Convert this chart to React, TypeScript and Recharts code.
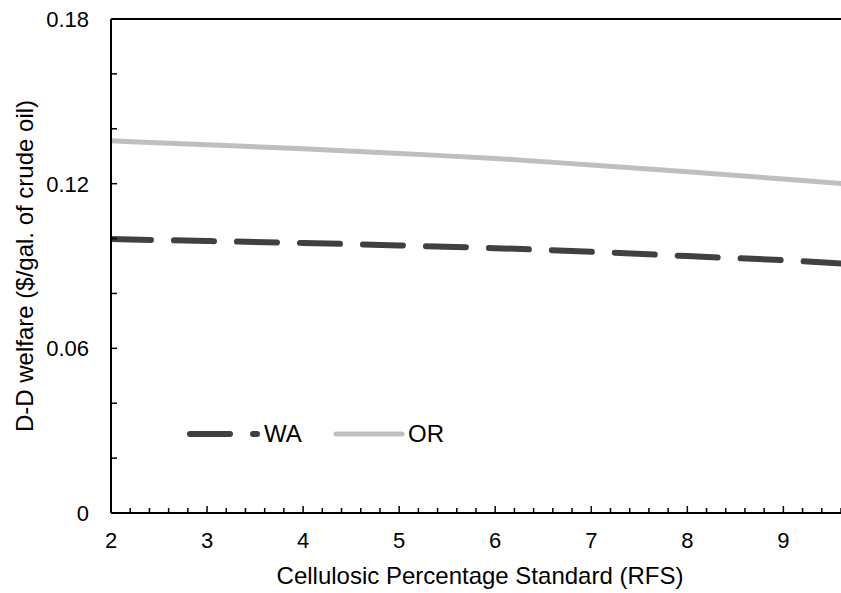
import { LineChart, Line, XAxis, YAxis, ReferenceLine, Customized } from "recharts";

const rfsLevels = [2, 3, 4, 5, 6, 7, 8, 9, 10];
const waWelfare = [0.0998, 0.0991, 0.0984, 0.0975, 0.0965, 0.0952, 0.0936, 0.0921, 0.09];
const orWelfare = [0.1356, 0.1342, 0.1327, 0.131, 0.1292, 0.1268, 0.1243, 0.1217, 0.119];

const yTicks = [0, 0.02, 0.04, 0.06, 0.08, 0.1, 0.12, 0.14, 0.16, 0.18];
const yLabelled = [0, 0.06, 0.12, 0.18];
const xMajor = [2, 3, 4, 5, 6, 7, 8, 9];
// minor ticks every 0.2 along the x axis
const xTicks = Array.from({ length: 39 }, (_, i) => Math.round((2 + i * 0.2) * 10) / 10);

const data = rfsLevels.map((rfs, i) => ({ rfs, WA: waWelfare[i], OR: orWelfare[i] }));

const FONT = "'Liberation Sans', Arial, sans-serif";
const WA_COLOR = "#404040";
const OR_COLOR = "#bfbfbf";

function YTick(props: any) {
  const { x, y, payload } = props;
  const v = payload.value;
  const labelled = yLabelled.some((t) => Math.abs(t - v) < 1e-6);
  return (
    <g>
      <line x1={x} y1={y} x2={x + 6} y2={y} stroke="#000" strokeWidth={1.5} />
      {labelled && (
        <text x={x - 22} y={y + 8} textAnchor="end" fontSize={22} fontFamily={FONT} fill="#000">
          {v === 0 ? "0" : v.toFixed(2)}
        </text>
      )}
    </g>
  );
}

function XTick(props: any) {
  const { x, y, payload } = props;
  const v = payload.value;
  const major = xMajor.includes(v);
  return (
    <g>
      <line x1={x} y1={y} x2={x} y2={y - (major ? 7 : 5)} stroke="#000" strokeWidth={1.5} />
      {major && (
        <text x={x} y={y + 35} textAnchor="middle" fontSize={22} fontFamily={FONT} fill="#000">
          {v}
        </text>
      )}
    </g>
  );
}

function XTitle(props: any) {
  const { viewBox } = props;
  return (
    <text x={viewBox.x + viewBox.width / 2 + 4} y={viewBox.y + 71} textAnchor="middle" fontSize={24} fontFamily={FONT} fill="#000">
      Cellulosic Percentage Standard (RFS)
    </text>
  );
}

function YTitle(props: any) {
  const { viewBox } = props;
  const cx = 33;
  const cy = viewBox.y + viewBox.height / 2;
  return (
    <text x={cx} y={cy} transform={`rotate(-90, ${cx}, ${cy})`} textAnchor="middle" fontSize={24} fontFamily={FONT} fill="#000">
      D-D welfare ($/gal. of crude oil)
    </text>
  );
}

function ChartLegend() {
  return (
    <g fontFamily={FONT} fontSize={24}>
      <line x1={190} y1={434} x2={257} y2={434} stroke={WA_COLOR} strokeWidth={6} strokeDasharray="40 23" strokeLinecap="round" />
      <text x={264} y={442} fill="#000">WA</text>
      <line x1={336} y1={434} x2={402} y2={434} stroke={OR_COLOR} strokeWidth={5} strokeLinecap="round" />
      <text x={408} y={442} fill="#000">OR</text>
    </g>
  );
}

export default function App() {
  return (
    <div style={{ position: "absolute", left: 0, top: 0, background: "#fff" }}>
      <LineChart width={841} height={593} data={data} margin={{ top: 19, right: 0, bottom: 0, left: 0 }}>
        <XAxis
          dataKey="rfs"
          type="number"
          domain={[2, 9.6]}
          allowDataOverflow
          ticks={xTicks}
          interval={0}
          tick={<XTick />}
          tickLine={false}
          tickSize={0}
          tickMargin={0}
          height={80}
          axisLine={{ stroke: "#000", strokeWidth: 2 }}
          label={<XTitle />}
        />
        <YAxis
          type="number"
          domain={[0, 0.18]}
          ticks={yTicks}
          interval={0}
          tick={<YTick />}
          tickLine={false}
          tickSize={0}
          tickMargin={0}
          width={111}
          axisLine={{ stroke: "#000", strokeWidth: 2 }}
          label={<YTitle />}
        />
        <ReferenceLine y={0.18} stroke="#000" strokeWidth={2} />
        <Line
          type="monotone"
          dataKey="WA"
          stroke={WA_COLOR}
          strokeWidth={6}
          strokeDasharray="40 23"
          strokeLinecap="round"
          dot={false}
          isAnimationActive={false}
        />
        <Line
          type="monotone"
          dataKey="OR"
          stroke={OR_COLOR}
          strokeWidth={5}
          dot={false}
          isAnimationActive={false}
        />
        <Customized component={<ChartLegend />} />
      </LineChart>
    </div>
  );
}
